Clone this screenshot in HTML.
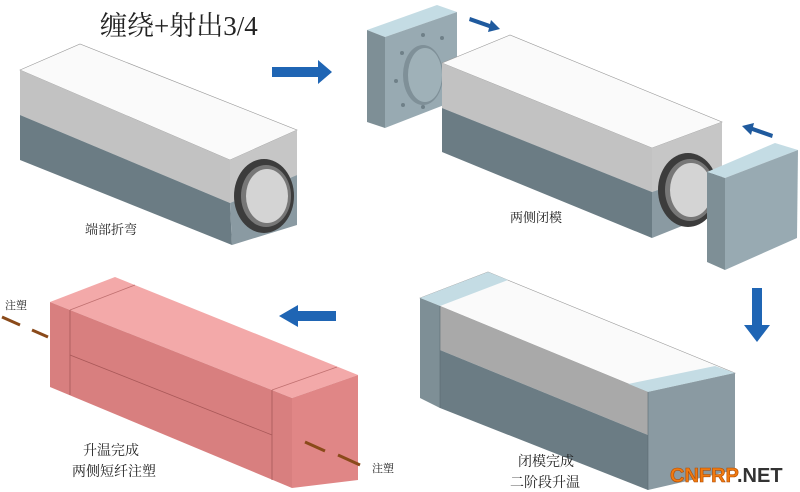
<!DOCTYPE html>
<html><head><meta charset="utf-8"><style>
body{margin:0;background:#fff}
svg{display:block}
text{font-family:"Liberation Serif","Noto Serif CJK SC",serif;fill:#222}
</style></head><body>
<svg width="800" height="492" viewBox="0 0 800 492" xmlns="http://www.w3.org/2000/svg">
<rect width="800" height="492" fill="#fff"/>
<text x="100" y="35" font-size="27">缠绕+射出3/4</text>

<!-- Box 1 -->
<polygon points="20,70 80,44 297,130 230,160" fill="#fafafa" stroke="#999" stroke-width="0.6"/>
<polygon points="20,70 230,160 230,203 20,115" fill="#c2c2c2"/>
<polygon points="20,115 230,203 232,245 20,160" fill="#6b7c84"/>
<polygon points="230,160 297,130 297,175 230,203" fill="#c6c6c6"/>
<polygon points="230,203 297,175 297,225 232,245" fill="#8a9aa2"/>
<ellipse cx="264" cy="196" rx="30" ry="37" fill="#3c3c3c"/>
<ellipse cx="266" cy="196" rx="25" ry="31" fill="#777"/>
<ellipse cx="267" cy="196" rx="21" ry="27" fill="#d4d4d4"/>
<text x="85" y="234" font-size="13">端部折弯</text>

<!-- Arrow right -->
<polygon points="272,67 318,67 318,60 332,72 318,84 318,77 272,77" fill="#1f65b4"/>

<!-- Left plate -->
<polygon points="367,30 437,5 457,12 385,37" fill="#c4dce4"/>
<polygon points="367,30 385,37 385,128 367,122" fill="#7e8f96"/>
<polygon points="385,37 457,12 457,100 385,128" fill="#98aab2"/>
<ellipse cx="423" cy="75" rx="20" ry="30" fill="#7f9098"/>
<ellipse cx="425" cy="75" rx="17" ry="27" fill="#9fb1b8"/>
<g fill="#6f8088"><circle cx="402" cy="53" r="2"/><circle cx="423" cy="35" r="2"/><circle cx="442" cy="38" r="2"/><circle cx="396" cy="81" r="2"/><circle cx="403" cy="105" r="2"/><circle cx="423" cy="107" r="2"/></g>

<!-- Box 2 -->
<polygon points="442,63 510,35 722,122 652,148" fill="#fafafa" stroke="#999" stroke-width="0.6"/>
<polygon points="442,63 652,148 652,192 442,108" fill="#c2c2c2"/>
<polygon points="442,108 652,192 652,238 442,152" fill="#6b7c84"/>
<polygon points="652,148 722,122 722,168 652,192" fill="#c6c6c6"/>
<polygon points="652,192 722,168 722,210 652,238" fill="#8a9aa2"/>
<ellipse cx="688" cy="190" rx="30" ry="37" fill="#3c3c3c"/>
<ellipse cx="690" cy="190" rx="25" ry="31" fill="#777"/>
<ellipse cx="691" cy="190" rx="21" ry="27" fill="#d4d4d4"/>
<text x="510" y="222" font-size="13">两侧闭模</text>
<polygon points="470,17 490,24 491,20 500,29 488,32 489,28 469,21" fill="#1f5a9e"/>
<polygon points="772,138 752,131 751,135 742,126 754,123 753,127 773,134" fill="#1f5a9e"/>

<!-- Right plate -->
<polygon points="707,172 775,143 798,150 725,178" fill="#c4dce4"/>
<polygon points="707,172 725,178 725,270 707,262" fill="#7e8f96"/>
<polygon points="725,178 798,150 797,238 725,270" fill="#98aab2"/>

<!-- Down arrow -->
<polygon points="752,288 762,288 762,325 770,325 757,342 744,325 752,325" fill="#1f65b4"/>

<!-- Left arrow -->
<polygon points="336,311 298,311 298,305 279,316 298,327 298,321 336,321" fill="#1f65b4"/>

<!-- Box 3 pink -->
<polygon points="50,302 115,277 358,375 292,398" fill="#f3a9a9"/>
<line x1="70" y1="310" x2="135" y2="285" stroke="#c07070" stroke-width="0.8"/>
<line x1="272" y1="390" x2="337" y2="367" stroke="#c07070" stroke-width="0.8"/>
<polygon points="50,302 292,398 292,488 50,387" fill="#d87f7f"/>
<line x1="70" y1="310" x2="70" y2="395" stroke="#a85858" stroke-width="0.8"/>
<line x1="272" y1="390" x2="272" y2="480" stroke="#a85858" stroke-width="0.8"/>
<line x1="70" y1="355" x2="272" y2="435" stroke="#a85858" stroke-width="0.8"/>
<polygon points="292,398 358,375 358,480 292,488" fill="#e08686"/>
<text x="5" y="309" font-size="11">注塑</text>
<line x1="2" y1="317" x2="20" y2="325" stroke="#8a4a1a" stroke-width="3"/>
<line x1="32" y1="330" x2="48" y2="337" stroke="#8a4a1a" stroke-width="3"/>
<line x1="305" y1="442" x2="325" y2="451" stroke="#8a4a1a" stroke-width="3"/>
<line x1="338" y1="455" x2="360" y2="465" stroke="#8a4a1a" stroke-width="3"/>
<text x="372" y="472" font-size="11">注塑</text>
<text x="83" y="455" font-size="14">升温完成</text>
<text x="72" y="476" font-size="14">两侧短纤注塑</text>

<!-- Box 4 -->
<polygon points="420,298 488,272 735,373 648,392" fill="#fafafa" stroke="#999" stroke-width="0.6"/>
<polygon points="420,298 488,272 508,280 440,306" fill="#c4dce4"/>
<polygon points="628,384 715,366 735,373 648,392" fill="#c4dce4"/>
<polygon points="420,298 440,306 440,408 420,398" fill="#7e8f96"/>
<polygon points="440,306 648,392 648,435 440,350" fill="#a9a9a9"/>
<polygon points="440,350 648,435 648,490 440,408" fill="#6b7c84"/>
<polygon points="648,392 735,373 735,470 648,490" fill="#8a9aa2"/>
<line x1="440" y1="306" x2="440" y2="408" stroke="#5a6a72" stroke-width="0.6"/>
<line x1="648" y1="392" x2="648" y2="490" stroke="#5a6a72" stroke-width="0.6"/>
<text x="518" y="466" font-size="14">闭模完成</text>
<text x="510" y="487" font-size="14">二阶段升温</text>

<text x="670" y="482" style="font-family:'Liberation Sans',sans-serif;font-weight:bold;font-size:20px;fill:#f07a10;stroke:#b04a00;stroke-width:0.6">CNFRP</text>
<text x="737" y="482" style="font-family:'Liberation Sans',sans-serif;font-weight:bold;font-size:20px;fill:#333">.NET</text>
</svg>
</body></html>
